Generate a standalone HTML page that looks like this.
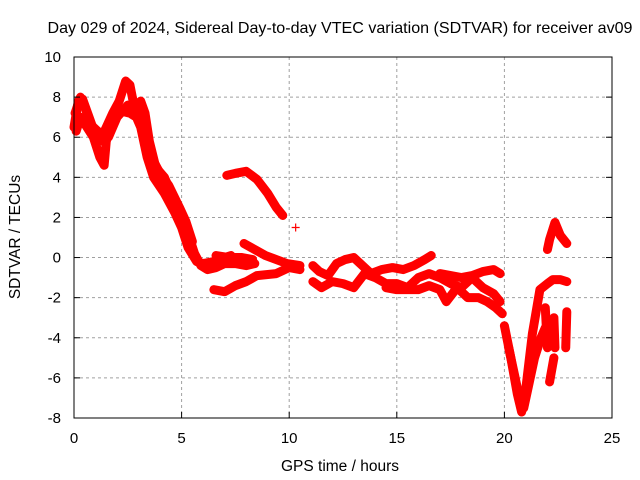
<!DOCTYPE html>
<html><head><meta charset="utf-8"><style>
html,body{margin:0;padding:0;background:#fff}
svg{display:block;font-family:"Liberation Sans",sans-serif}
</style></head><body>
<svg id="chart" width="640" height="480" viewBox="0 0 640 480" xmlns="http://www.w3.org/2000/svg">
<rect width="640" height="480" fill="#fff"/>
<text x="340" y="33" font-size="15.8" text-anchor="middle" textLength="585" lengthAdjust="spacingAndGlyphs">Day 029 of 2024, Sidereal Day-to-day VTEC variation (SDTVAR) for receiver av09</text>
<text x="340" y="471" font-size="15.5" text-anchor="middle">GPS time / hours</text>
<text transform="translate(20,237) rotate(-90)" font-size="15.5" text-anchor="middle">SDTVAR / TECUs</text>
<g id="grid"></g><g id="marks"></g><g id="axes"></g>
</svg>
<script>
const xTicks=[0,5,10,15,20,25];
const yTicks=[-8,-6,-4,-2,0,2,4,6,8,10];
const bandEarly1=[[0,6.5],[0.2,7.8],[0.4,7.9],[0.7,7],[1,6.1],[1.2,5.8],[1.5,6.5],[1.8,7.2],[2.1,7.8],[2.4,8.8],[2.6,8.6],[2.8,7.5],[3.1,7.8],[3.3,7.2],[3.5,5.8],[3.8,4.5],[4.2,4],[4.6,3],[5,2.2],[5.3,1.2],[5.6,0.2],[5.9,-0.4],[6.2,-0.6],[6.6,-0.5],[7,-0.3],[7.5,-0.3],[8,-0.4],[8.4,-0.3]];
const bandEarly2=[[0.1,6.3],[0.3,7],[0.6,6.5],[0.9,6],[1.2,5],[1.4,4.6],[1.5,5.8],[1.8,6.8],[2.2,7.3],[2.6,7.2],[2.9,7],[3.1,6.5],[3.4,5],[3.7,4],[4.2,3.2],[4.7,2.2],[5,1.5],[5.3,0.5],[5.7,-0.2],[6,-0.3],[6.5,-0.2],[7,0],[7.3,0.1]];
const bandEarly3=[[0.05,7.2],[0.3,8],[0.5,7.5],[0.8,6.6],[1.1,6.3],[1.6,6],[2,7],[2.5,7.6],[3,7.2],[3.3,6.2],[3.6,5],[4,4.2],[4.4,3.6],[4.9,2.5],[5.2,1.8],[5.5,0.8]];
const bandShort=[[6.6,0.1],[7.2,0],[7.8,0],[8.3,-0.1]];
const bandLower=[[6.5,-1.6],[7,-1.7],[7.5,-1.4],[8,-1.2],[8.5,-0.9],[9.4,-0.8],[10,-0.5],[10.5,-0.6]];
const bandMid=[[7.9,0.7],[8.4,0.4],[8.9,0.1],[9.4,-0.1],[9.9,-0.3],[10.5,-0.4]];
const trackB=[[7.1,4.1],[7.5,4.2],[8,4.3],[8.5,3.9],[9,3.2],[9.4,2.5],[9.7,2.1]];
const lonePoint=[[10.3,1.5]];
const midTop=[[11.1,-0.4],[11.4,-0.7],[11.8,-0.9],[12.2,-0.3],[12.6,-0.1],[13,0],[13.3,-0.3],[13.8,-0.8],[14.3,-0.6],[14.8,-0.5],[15.3,-0.6],[15.8,-0.4],[16.3,-0.1],[16.6,0.1]];
const midMain=[[11.1,-1.2],[11.5,-1.5],[12,-1.2],[12.5,-1.3],[13,-1.5],[13.5,-0.8],[14,-1],[14.5,-1.3],[15,-1.3],[15.5,-1.5],[16,-1],[16.5,-0.8],[17,-1],[17.5,-1.3],[18,-1.5],[18.5,-1],[19,-1.5],[19.5,-1.8],[19.8,-2.2]];
const midLow=[[14.5,-1.5],[15,-1.6],[15.5,-1.6],[16,-1.6],[16.5,-1.4],[17,-1.6],[17.3,-2.2],[17.8,-1.5],[18.3,-2],[18.8,-2],[19.2,-2.2],[19.6,-2.5],[19.9,-2.8]];
const midUpper=[[17,-0.8],[17.5,-0.9],[18,-1],[18.5,-0.9],[19,-0.7],[19.5,-0.6],[19.8,-0.8]];
const dipA=[[20,-3.4],[20.3,-5],[20.6,-6.8],[20.8,-7.7],[21,-6.5],[21.3,-3.8],[21.65,-1.6],[22,-1.3],[22.25,-1.1],[22.6,-1.1],[22.9,-1.2]];
const dipB=[[20.2,-4.5],[20.6,-6.5],[20.9,-7.5],[21.1,-6.5],[21.4,-5],[21.7,-4],[21.9,-3.5]];
const peakA=[[22,0.4],[22.1,0.9],[22.35,1.75],[22.6,1.1],[22.9,0.7]];
const streak1=[[21.9,-2.5],[21.95,-3.5],[22,-4.5]];
const streak2=[[22.3,-3],[22.35,-4.5]];
const streak3=[[22.9,-2.7],[22.85,-4.5]];
const streak4=[[22.1,-6.2],[22.2,-5.6],[22.3,-5]];
const series=[bandEarly1,bandEarly2,bandEarly3,bandShort,bandLower,bandMid,trackB,lonePoint,midTop,midMain,midLow,midUpper,dipA,dipB,peakA,streak1,streak2,streak3,streak4];
const seriesNames=['band-early-1','band-early-2','band-early-3','band-short','band-lower','band-mid','track-b','lone-point','mid-top','mid-main','mid-low','mid-upper','dip-a','dip-b','peak-a','streak-1','streak-2','streak-3','streak-4'];

const X0=74,X1=612,Y0=418,Y1=57;
const xs=h=>X0+(h-0)/(25-0)*(X1-X0);
const ys=v=>Y0-(v+8)/(18)*(Y0-Y1);
const NS='http://www.w3.org/2000/svg';
function mk(t,a,p){const e=document.createElementNS(NS,t);for(const k in a)e.setAttribute(k,a[k]);p.appendChild(e);return e;}
const grid=document.getElementById('grid'),marks=document.getElementById('marks'),axes=document.getElementById('axes');
xTicks.forEach(t=>{const x=xs(t);
 if(t>0&&t<25){const l=mk('line',{x1:x,y1:Y1,x2:x,y2:Y0,stroke:'#a0a0a0','stroke-dasharray':'3,3'},grid);
 
 }
 mk('line',{x1:x,y1:Y0,x2:x,y2:Y0-6,stroke:'#000'},axes);
 const tx=mk('text',{x:x,y:Y0+25,'font-size':15,'text-anchor':'middle'},axes);tx.textContent=t;
 
 });
yTicks.forEach(t=>{const y=ys(t);
 if(t>-8&&t<10){const l=mk('line',{x1:X0,y1:y,x2:X1,y2:y,stroke:'#a0a0a0','stroke-dasharray':'3,3'},grid);
 
 }
 mk('line',{x1:X0,y1:y,x2:X0+6,y2:y,stroke:'#000'},axes);
 mk('line',{x1:X1,y1:y,x2:X1-6,y2:y,stroke:'#000'},axes);
 const tx=mk('text',{x:X0-13,y:y+5,'font-size':15,'text-anchor':'end'},axes);tx.textContent=t;
 
 });
const fr=mk('rect',{x:X0,y:Y1,width:X1-X0,height:Y0-Y1,fill:'none',stroke:'#000'},axes);


series.forEach((s,i)=>{
 const g=mk('g',{},marks);
 
 
 if(s.length>1){mk('polyline',{points:s.map(p=>xs(p[0])+','+ys(p[1])).join(' '),fill:'none',stroke:'#ff0000','stroke-width':9,'stroke-linejoin':'round','stroke-linecap':'round'},g);}
 s.forEach(p=>{const x=xs(p[0]),y=ys(p[1]);
  const m=mk('path',{d:`M${x-4},${y}H${x+4}M${x},${y-4}V${y+4}`,stroke:'#ff0000','stroke-width':1.2},g);
  
  });
});
</script>
</body></html>
